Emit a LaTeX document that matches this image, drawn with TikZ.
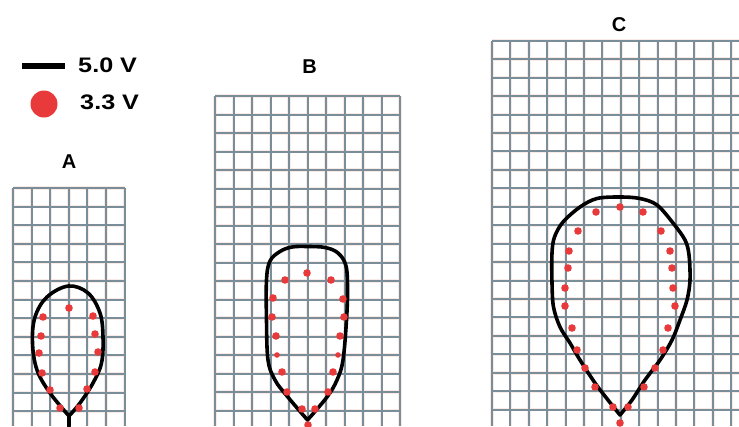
\documentclass[tikz,border=0pt]{standalone}
\usepackage{fontspec}
\setmainfont{Liberation Sans}
\definecolor{gridc}{RGB}{122,142,154}
\definecolor{halo}{RGB}{250,234,230}
\definecolor{dotred}{RGB}{232,58,58}
\tikzset{
  gridhalo/.style={draw=halo, line width=3.4pt},
  gridline/.style={draw=gridc, line width=2pt},
  outline/.style={draw=black, line width=3.6pt, line join=round, line cap=round},
  reddot/.style={fill=dotred},
  panellabel/.style={inner sep=0pt, font=\fontsize{20}{24}\selectfont\bfseries},
  legendtext/.style={inner sep=0pt, anchor=west, xscale=1.2, font=\fontsize{21}{25}\selectfont\bfseries}
}
\begin{document}
\begin{tikzpicture}[x=1pt,y=-1pt]
\useasboundingbox (0,0) rectangle (739,426);
\fill[white] (0,0) rectangle (739,426);
\begin{scope}
\clip (0,0) rectangle (739,426);
\foreach \s in {gridhalo,gridline}{
  % ---- grid A
  \foreach \i in {0,...,6} \draw[\s] ({13+\i*18.6},188) -- ({13+\i*18.6},426);
  \foreach \j in {0,...,12} \draw[\s] (13,{188+\j*18.6}) -- (124.6,{188+\j*18.6});
  % ---- grid B
  \foreach \i in {0,...,10} \draw[\s] ({215+\i*18.5},96) -- ({215+\i*18.5},426);
  \foreach \j in {0,...,17} \draw[\s] (215,{96+\j*18.5}) -- (400,{96+\j*18.5});
  % ---- grid C
  \foreach \i in {0,...,13} \draw[\s] ({492+\i*18.4},40.7) -- ({492+\i*18.4},426);
  \foreach \j in {0,...,20} \draw[\s] (492,{40.7+\j*18.45}) -- (745,{40.7+\j*18.45});
}
% ---- outline A
\draw[outline] plot[smooth, tension=0.6] coordinates {
  (69,416) (50,393) (37,370) (32.5,343) (35,317) (47,297) (68.5,286)
  (88,293) (100,313) (103,337) (101.5,363) (93,383) (80,403) (69,416)} -- cycle;
\draw[outline] (69,416) -- (69,426);
% ---- outline B
\draw[outline] plot[smooth, tension=0.6] coordinates {
  (307.5,420) (287,396) (275,380) (268,360) (266.5,320) (266.5,280) (270,261)
  (280,251.5) (292,247) (307.5,246.5) (325,247.5) (338,253) (346,266) (347.5,290)
  (346.5,320) (343,360) (337,380) (327,397) (307.5,420)} -- cycle;
% ---- outline C
\draw[outline] plot[smooth, tension=0.55] coordinates {
  (620,415) (608,400) (595,383) (580,360) (570,343) (560,327) (553.5,307)
  (552,283) (552,253) (554.5,237) (563,222) (580,207) (597,198.5) (620,197)
  (640,198.5) (657,205) (673,223) (685,240) (689,255) (690,280) (687,300)
  (680,320) (672,340) (660,360) (645,380) (632,400) (620,415)} -- cycle;
% ---- dots A
\foreach \p in {(69,308),(43,317),(93,316),(41,336),(95,334),(39,353),(98,352),
  (42,373),(95,372),(50,390),(87,389),(60,408),(79,408)}
  \fill[reddot] \p circle (3.8);
% ---- dots B
\foreach \p in {(307,273),(285,280),(331,280),(273,298),(343,299),(272,317),(344,317),
  (276,336),(340,336),(282,372),(333,372),(287,392),(328,392),(302,409),(315,409),(308,425)}
  \fill[reddot] \p circle (3.8);
\foreach \p in {(277,355),(338,355)}
  \fill[reddot] \p circle (2.8);
% ---- dots C
\foreach \p in {(620,207),(596,212),(643,212),(578,231),(661,231),(569,251),(670,251),
  (568,268),(672,268),(565,288),(673,288),(565,306),(675,306),(572,328),(668,328),
  (577,350),(663,350),(585,368),(655,368),(595,387),(644,387),(613,407),(628,407),(620,423)}
  \fill[reddot] \p circle (3.8);
\end{scope}
% ---- labels
\node[panellabel] (labA) at (69,162) {A};
\node[panellabel] (labB) at (309.7,67) {B};
\node[panellabel] (labC) at (619,24.5) {C};
% ---- legend
\coordinate (legL) at (22,65.7);
\coordinate (legR) at (65,65.7);
\draw[draw=black, line width=6pt] (legL) -- (legR);
\fill[reddot] (44,104) circle (13.5);
\node[legendtext] (leg5) at (78,65.7) {5.0 V};
\node[legendtext] (leg3) at (80,102.5) {3.3 V};
\end{tikzpicture}
\end{document}
